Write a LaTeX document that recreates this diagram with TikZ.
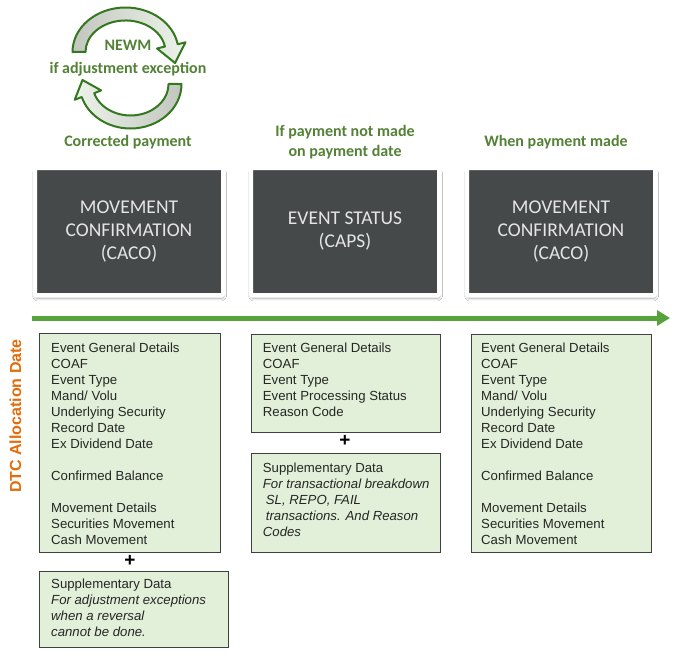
\documentclass[tikz,border=0pt]{standalone}
\usepackage{fontspec}
\setmainfont{Liberation Sans}
\newfontfamily\calibfont{Carlito}
\usepackage{tikz}
\usetikzlibrary{calc,positioning,arrows.meta,shadows.blur}
\definecolor{hdgreen}{HTML}{538135}
\definecolor{cyclegreen}{HTML}{33781E}
\definecolor{cyclegray}{HTML}{C2C6BF}
\definecolor{cyclelight}{HTML}{EDF3EA}
\definecolor{linegreen}{HTML}{55A33A}
\definecolor{boxgray}{HTML}{46494A}
\definecolor{boxgreen}{HTML}{E2F0D9}
\definecolor{dtcorange}{HTML}{E46C0A}

\begin{document}
\begin{tikzpicture}[x=1pt,y=-1pt,
  msg/.style={fill=boxgray,draw=white,line width=4.5pt,rounded corners=1.5pt,minimum width=188.5pt,minimum height=127.5pt,align=center,text=white!90!black,font=\calibfont\fontsize{19.5}{23}\selectfont,blur shadow={shadow xshift=0.5pt,shadow yshift=-3pt,shadow blur radius=2.5pt,shadow opacity=35}},
  hdr/.style={text=hdgreen,align=center,font=\calibfont\bfseries\fontsize{16}{20}\selectfont},
  info/.style={fill=boxgreen,draw=black!75,line width=0.9pt,anchor=north west,inner sep=0pt},
  infotxt/.style={anchor=north west,inner sep=0pt,align=left,text=black!85,font=\fontsize{13.2}{16}\selectfont},
  plus/.style={font=\bfseries\fontsize{19}{20}\selectfont},
  cyc/.style={draw=cyclegreen,line width=2pt,line join=round},
  timeline/.style={draw=linegreen,line width=5pt,-{Triangle[length=13pt,width=15pt]}}]
  \path[use as bounding box,fill=white] (0,0) rectangle (676,656);

  \draw[cyc,left color=cyclegray,right color=cyclelight] (72.5,52) arc[start angle=180,end angle=350,x radius=53,y radius=44.5] -- (185.5,42.3) -- (175,63) -- (157.1,48.5) -- (164.9,46.5) arc[start angle=350,end angle=180,x radius=40,y radius=31.5] -- cycle;
  \draw[cyc,left color=cyclelight,right color=cyclegray] (181.5,84) arc[start angle=0,end angle=163,x radius=51,y radius=44.5] -- (74.7,99.8) -- (82.5,80) -- (101.1,90.4) -- (94.2,93.2) arc[start angle=163,end angle=0,x radius=38,y radius=31.5] -- cycle;
  \node[hdr,font=\calibfont\bfseries\fontsize{16}{23}\selectfont] (newm) at (128,58.5) {NEWM\\if adjustment exception};

  \node[hdr] (corr) at (128,142) {Corrected payment};
  \node[hdr] (notmade) at (345,142) {If payment not made\\on payment date};
  \node[hdr] (made) at (556,142) {When payment made};

  \node[msg] (caco1) at (129,231.5) {MOVEMENT\\CONFIRMATION\\(CACO)};
  \node[msg] (caps) at (345,231.5) {EVENT STATUS\\(CAPS)};
  \node[msg] (caco2) at (561,231.5) {MOVEMENT\\CONFIRMATION\\(CACO)};

  \coordinate (tstart) at (32,318);
  \coordinate (tend) at (670,318);
  \draw[timeline] (tstart) -- (tend);

  \node[rotate=90,text=dtcorange,font=\bfseries\fontsize{16}{19}\selectfont] (dtc) at (15.5,416) {DTC Allocation Date};

  \node[info,minimum width=181pt,minimum height=219pt] (det1) at (39,333) {};
  \node[infotxt] (det1txt) at (51,342.3) {Event General Details\\COAF\\Event Type\\Mand/ Volu\\Underlying Security\\Record Date\\Ex Dividend Date\\[16pt]Confirmed Balance\\[16pt]Movement Details\\Securities Movement\\Cash Movement};
  \node[plus] (plus1) at (130,561) {+};
  \node[info,minimum width=189pt,minimum height=76pt] (supp1) at (39,571) {};
  \node[infotxt] (supp1txt) at (51,578.3) {Supplementary Data\\\textit{For adjustment exceptions}\\\textit{when a reversal}\\\textit{cannot be done.}};

  \node[info,minimum width=189pt,minimum height=98pt] (det2) at (251,334) {};
  \node[infotxt] (det2txt) at (262.7,342.3) {Event General Details\\COAF\\Event Type\\Event Processing Status\\Reason Code};
  \node[plus] (plus2) at (345,441) {+};
  \node[info,minimum width=189pt,minimum height=99pt] (supp2) at (251,453) {};
  \node[infotxt] (supp2txt) at (262.7,462.3) {Supplementary Data\\\textit{For transactional breakdown}\\\hspace*{3pt}\textit{SL, REPO, FAIL}\\\hspace*{3pt}\textit{transactions. And Reason}\\\textit{Codes}};

  \node[info,minimum width=180pt,minimum height=218pt] (det3) at (471,334) {};
  \node[infotxt] (det3txt) at (481,342.3) {Event General Details\\COAF\\Event Type\\Mand/ Volu\\Underlying Security\\Record Date\\Ex Dividend Date\\[16pt]Confirmed Balance\\[16pt]Movement Details\\Securities Movement\\Cash Movement};
\end{tikzpicture}
\end{document}
